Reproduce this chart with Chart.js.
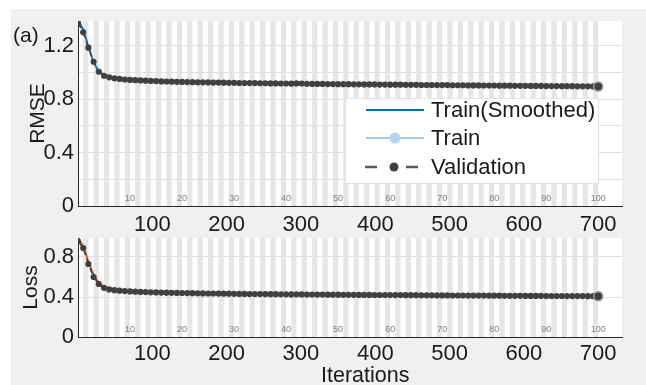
<!DOCTYPE html>
<html lang="en">
<head>
<meta charset="UTF-8">
<title>Training Progress</title>
<script src="https://cdn.jsdelivr.net/npm/chart.js"></script>
<style>
    body { margin: 0; width: 646px; height: 385px; overflow: hidden; background: #fff;
           font-family: 'Liberation Sans', Arial, sans-serif; position: relative; }
    #panel { position: absolute; left: 11px; top: 9px; right: 0; bottom: 0; background: #f0f0f0; }
    canvas { position: absolute; left: 0; }
    #topChart { top: 0; }
    #bottomChart { top: 220px; }
    .txt { position: absolute; color: #1a1a1a; white-space: nowrap; }
    #tag { left: 13px; top: 23px; font-size: 21px; }
    #xtitle { left: 321px; top: 363px; font-size: 21.5px; }
    #legend { position: absolute; left: 345px; top: 98px; width: 252px; height: 84px;
              background: #fff; border: 1px solid #e2e2e2; }
    #legend .row { position: absolute; left: 0; height: 28px; width: 252px; }
    #legend svg { position: absolute; left: 0; top: 0; }
    #legend span { position: absolute; left: 85px; top: 0px; font-size: 22px; line-height: 25px; color: #1a1a1a; }
</style>
</head>
<body>
<div id="panel"></div>
<canvas id="topChart" width="646" height="240"></canvas>
<canvas id="bottomChart" width="646" height="165"></canvas>
<div class="txt" id="tag">(a)</div>
<div class="txt" id="xtitle">Iterations</div>
<div id="legend">
    <div class="row" style="top:-2px">
        <svg width="80" height="28"><line x1="20" y1="13" x2="78" y2="13" stroke="#0072bd" stroke-width="2"/></svg>
        <span>Train(Smoothed)</span>
    </div>
    <div class="row" style="top:26px">
        <svg width="80" height="28"><line x1="20" y1="13" x2="78" y2="13" stroke="#a3c9ea" stroke-width="2"/><circle cx="49" cy="13" r="5.5" fill="#b3d5f1"/></svg>
        <span>Train</span>
    </div>
    <div class="row" style="top:55px">
        <svg width="80" height="28"><line x1="19" y1="13" x2="31" y2="13" stroke="#5a5a5a" stroke-width="2.5"/><circle cx="48" cy="13" r="4.5" fill="#404040"/><line x1="60" y1="13" x2="72" y2="13" stroke="#5a5a5a" stroke-width="2.5"/></svg>
        <span>Validation</span>
    </div>
</div>
<script>
    // iterations / epochs
    const itersPerEpoch = 7;
    const numEpochs = 100;
    const epochLabels = [10, 20, 30, 40, 50, 60, 70, 80, 90, 100];
    const xTickValues = [100, 200, 300, 400, 500, 600, 700];

    // validation is evaluated once per epoch
    const valIters = [0, 7, 14, 21, 28, 35, 42, 49, 56, 63, 70, 77, 84, 91, 98, 105, 112, 119, 126, 133,
        140, 147, 154, 161, 168, 175, 182, 189, 196, 203, 210, 217, 224, 231, 238, 245, 252, 259, 266, 273,
        280, 287, 294, 301, 308, 315, 322, 329, 336, 343, 350, 357, 364, 371, 378, 385, 392, 399, 406, 413,
        420, 427, 434, 441, 448, 455, 462, 469, 476, 483, 490, 497, 504, 511, 518, 525, 532, 539, 546, 553,
        560, 567, 574, 581, 588, 595, 602, 609, 616, 623, 630, 637, 644, 651, 658, 665, 672, 679, 686, 693, 700];

    const valRmse = [1.37, 1.30, 1.185, 1.08, 1.005, 0.975, 0.963, 0.956, 0.951, 0.947, 0.944, 0.942, 0.940, 0.938, 0.936, 0.935, 0.933, 0.932, 0.931, 0.930,
        0.929, 0.928, 0.927, 0.926, 0.926, 0.925, 0.924, 0.924, 0.923, 0.922, 0.922, 0.921, 0.921, 0.920, 0.920, 0.919, 0.919, 0.918, 0.918, 0.917,
        0.917, 0.916, 0.918, 0.917, 0.915, 0.914, 0.914, 0.914, 0.913, 0.913, 0.912, 0.912, 0.912, 0.911, 0.911, 0.910, 0.910, 0.910, 0.909, 0.909,
        0.908, 0.908, 0.908, 0.907, 0.907, 0.907, 0.906, 0.906, 0.906, 0.905, 0.905, 0.905, 0.904, 0.904, 0.904, 0.903, 0.903, 0.903, 0.902, 0.902,
        0.902, 0.901, 0.901, 0.901, 0.900, 0.900, 0.900, 0.899, 0.899, 0.899, 0.898, 0.898, 0.898, 0.897, 0.897, 0.897, 0.896, 0.896, 0.896, 0.895, 0.895];

    const valLoss = [0.960, 0.890, 0.730, 0.600, 0.530, 0.492, 0.476, 0.468, 0.463, 0.459, 0.456, 0.453, 0.451, 0.449, 0.447, 0.446, 0.444, 0.443, 0.442, 0.441,
        0.440, 0.439, 0.438, 0.437, 0.436, 0.435, 0.435, 0.434, 0.433, 0.433, 0.432, 0.431, 0.431, 0.430, 0.430, 0.429, 0.429, 0.428, 0.428, 0.427,
        0.427, 0.426, 0.427, 0.426, 0.425, 0.425, 0.424, 0.424, 0.423, 0.423, 0.423, 0.422, 0.422, 0.422, 0.421, 0.421, 0.421, 0.420, 0.420, 0.420,
        0.419, 0.419, 0.419, 0.418, 0.418, 0.418, 0.417, 0.417, 0.417, 0.416, 0.416, 0.416, 0.415, 0.415, 0.415, 0.414, 0.414, 0.414, 0.414, 0.413,
        0.413, 0.413, 0.412, 0.412, 0.412, 0.412, 0.411, 0.411, 0.411, 0.411, 0.410, 0.410, 0.410, 0.410, 0.409, 0.409, 0.409, 0.409, 0.408, 0.408, 0.408];

    // training values (sampled)
    const trainIters = [1, 4, 7, 10, 13, 16, 19, 22, 25, 28, 32, 36, 42, 49, 56, 63, 70,
        84, 98, 112, 126, 140, 154, 168, 182, 196, 210, 224, 238, 252, 266, 280, 294, 308, 322, 336,
        350, 364, 378, 392, 406, 420, 434, 448, 462, 476, 490, 504, 518, 532, 546, 560, 574, 588, 602,
        616, 630, 644, 658, 672, 686, 700];

    const trainRmse = [1.37, 1.35, 1.31, 1.26, 1.20, 1.15, 1.10, 1.06, 1.03, 1.00, 0.985, 0.97, 0.968, 0.952, 0.958, 0.944, 0.95,
        0.936, 0.94, 0.928, 0.935, 0.925, 0.93, 0.92, 0.928, 0.918, 0.925, 0.915, 0.923, 0.913, 0.921, 0.912, 0.925, 0.911, 0.918, 0.909,
        0.916, 0.908, 0.915, 0.906, 0.914, 0.905, 0.912, 0.904, 0.915, 0.903, 0.913, 0.902, 0.91, 0.901, 0.909, 0.90, 0.908, 0.899, 0.907,
        0.898, 0.906, 0.897, 0.905, 0.896, 0.903, 0.897];

    const smoothRmse = [1.37, 1.355, 1.32, 1.27, 1.21, 1.16, 1.11, 1.07, 1.035, 1.01, 0.99, 0.978, 0.968, 0.959, 0.955, 0.95, 0.947,
        0.941, 0.937, 0.933, 0.931, 0.928, 0.927, 0.925, 0.924, 0.922, 0.921, 0.92, 0.919, 0.918, 0.917, 0.916, 0.916, 0.915, 0.914, 0.913,
        0.912, 0.911, 0.911, 0.91, 0.909, 0.909, 0.908, 0.907, 0.907, 0.906, 0.906, 0.905, 0.905, 0.904, 0.904, 0.903, 0.903, 0.902, 0.902,
        0.901, 0.901, 0.90, 0.90, 0.899, 0.899, 0.899];

    const trainLoss = [0.96, 0.94, 0.895, 0.84, 0.77, 0.71, 0.65, 0.60, 0.565, 0.535, 0.51, 0.495, 0.482, 0.468, 0.472, 0.458, 0.462,
        0.448, 0.452, 0.441, 0.446, 0.437, 0.442, 0.433, 0.439, 0.43, 0.436, 0.428, 0.434, 0.426, 0.432, 0.425, 0.433, 0.423, 0.428, 0.421,
        0.426, 0.42, 0.425, 0.418, 0.424, 0.417, 0.422, 0.416, 0.423, 0.415, 0.421, 0.414, 0.419, 0.413, 0.418, 0.412, 0.417, 0.411, 0.416,
        0.41, 0.415, 0.41, 0.414, 0.409, 0.412, 0.408];

    const smoothLoss = [0.96, 0.945, 0.905, 0.85, 0.78, 0.72, 0.66, 0.61, 0.575, 0.545, 0.52, 0.503, 0.488, 0.477, 0.47, 0.465, 0.461,
        0.455, 0.45, 0.446, 0.443, 0.44, 0.438, 0.436, 0.435, 0.433, 0.432, 0.431, 0.43, 0.429, 0.428, 0.427, 0.427, 0.426, 0.425, 0.424,
        0.423, 0.422, 0.422, 0.421, 0.42, 0.42, 0.419, 0.418, 0.418, 0.417, 0.417, 0.416, 0.415, 0.415, 0.414, 0.414, 0.413, 0.413, 0.412,
        0.412, 0.411, 0.411, 0.41, 0.41, 0.409, 0.409];

    const pairs = (xs, ys) => xs.map((x, i) => ({ x: x, y: ys[i] }));
    const FONT = "'Liberation Sans', Arial, sans-serif";

    // alternating epoch bands + small epoch numbers
    const epochBands = {
        id: 'epochBands',
        beforeDraw(chart) {
            const { ctx, chartArea: a, scales: { x } } = chart;
            ctx.save();
            ctx.fillStyle = '#ffffff';
            ctx.fillRect(a.left, a.top, a.width, a.height);
            ctx.fillStyle = '#e6e6e6';
            for (let e = 2; e <= numEpochs; e += 2) {
                const x0 = x.getPixelForValue((e - 1) * itersPerEpoch);
                const x1 = x.getPixelForValue(e * itersPerEpoch);
                ctx.fillRect(x0, a.top, x1 - x0, a.height);
            }
            ctx.restore();
        },
        beforeDatasetsDraw(chart) {
            const { ctx, chartArea: a, scales: { x } } = chart;
            ctx.save();
            ctx.fillStyle = '#808080';
            ctx.font = '9px ' + FONT;
            ctx.textAlign = 'center';
            ctx.textBaseline = 'middle';
            epochLabels.forEach(ep => {
                ctx.fillText(String(ep), x.getPixelForValue(ep * itersPerEpoch), a.bottom - 7);
            });
            ctx.restore();
        }
    };

    function makeChart(canvasId, opts) {
        const last = valIters.length - 1;
        return new Chart(document.getElementById(canvasId), {
            type: 'line',
            data: {
                datasets: [{
                    label: 'Validation',
                    data: pairs(valIters, opts.val),
                    borderColor: '#404040',
                    borderWidth: 1.5,
                    borderDash: [6, 4],
                    pointRadius: c => c.dataIndex === last ? 4.5 : 3.1,
                    pointBackgroundColor: '#404040',
                    pointBorderColor: c => c.dataIndex === last ? '#9a9a9a' : '#404040',
                    pointBorderWidth: c => c.dataIndex === last ? 1.5 : 0,
                    tension: 0
                }, {
                    label: 'Train(Smoothed)',
                    data: pairs(trainIters, opts.smooth),
                    borderColor: opts.smoothColor,
                    borderWidth: 1.8,
                    pointRadius: 0,
                    tension: 0
                }, {
                    label: 'Train',
                    data: pairs(trainIters, opts.train),
                    borderColor: opts.trainColor,
                    borderWidth: 1.2,
                    pointRadius: 0,
                    tension: 0
                }]
            },
            options: {
                responsive: false,
                animation: false,
                devicePixelRatio: 1,
                layout: { padding: { left: 0, right: 24, top: opts.padTop, bottom: 0 } },
                plugins: { legend: { display: false }, tooltip: { enabled: false } },
                scales: {
                    x: {
                        type: 'linear',
                        min: 0,
                        max: 732,
                        afterFit: s => { s.height = opts.xHeight; },
                        grid: { display: false, drawTicks: false },
                        border: { color: '#262626', width: 1 },
                        ticks: {
                            stepSize: 100,
                            includeBounds: false,
                            autoSkip: false,
                            maxRotation: 0,
                            padding: opts.xPad,
                            color: '#1a1a1a',
                            font: { family: FONT, size: 22 },
                            callback: v => xTickValues.includes(v) ? String(v) : ''
                        }
                    },
                    y: {
                        min: 0,
                        max: opts.yMax,
                        afterFit: s => { s.width = 78; },
                        grid: {
                            drawTicks: false,
                            color: c => (c.tick && c.tick.value > 0) ? '#e0e0e0' : 'rgba(0,0,0,0)'
                        },
                        border: { color: '#262626', width: 1 },
                        ticks: {
                            stepSize: 0.2,
                            includeBounds: false,
                            padding: 4,
                            color: '#1a1a1a',
                            font: { family: FONT, size: 22 },
                            callback: v => {
                                const r = Math.round(v * 10);
                                return r % 4 === 0 ? String(r / 10) : '';
                            }
                        },
                        title: {
                            display: true,
                            text: opts.yTitle,
                            color: '#1a1a1a',
                            padding: { top: opts.titlePad, bottom: 0 },
                            font: { family: FONT, size: 21 }
                        }
                    }
                }
            },
            plugins: [epochBands]
        });
    }

    makeChart('topChart', {
        val: valRmse, train: trainRmse, smooth: smoothRmse,
        trainColor: '#a3c9ea', smoothColor: '#0072bd',
        yMax: 1.385, yTitle: 'RMSE', titlePad: 26, padTop: 21, xHeight: 34, xPad: 6
    });

    makeChart('bottomChart', {
        val: valLoss, train: trainLoss, smooth: smoothLoss,
        trainColor: '#f3b48e', smoothColor: '#d95319',
        yMax: 0.99, yTitle: 'Loss', titlePad: 19, padTop: 18, xHeight: 48, xPad: 4
    });
</script>
</body>
</html>
